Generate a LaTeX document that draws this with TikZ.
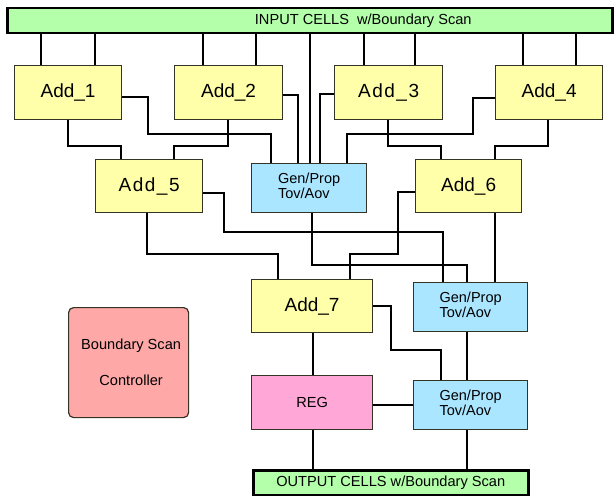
\documentclass[tikz,border=0pt]{standalone}
\usepackage{fontspec}
\setmainfont{Liberation Sans}
\newcommand{\fsz}[2]{\fontsize{#1}{#2}\selectfont}
\newcommand{\wide}{\addfontfeature{LetterSpace=8}}
\definecolor{addy}{HTML}{FFFFAA}
\definecolor{gpb}{HTML}{AAE6FF}
\definecolor{regp}{HTML}{FFA8D8}
\definecolor{ctrl}{HTML}{FFA8A8}
\definecolor{cellg}{HTML}{B4FFAA}
\definecolor{edge}{HTML}{333326}
\begin{document}
\begin{tikzpicture}[x=1pt,y=-1pt,
  blk/.style={draw=edge, line width=1.2pt, inner sep=0pt, anchor=north west},
  addbox/.style={blk, fill=addy, font=\fsz{19}{22}},
  gpbox/.style={blk, fill=gpb, label={[gptext]center:Gen/Prop\\Tov/Aov}},
  gptext/.style={font=\fsz{14.5}{15}, align=left, inner sep=0pt, yshift=2.5pt},
  cellbar/.style={draw=black, line width=2.5pt, fill=cellg, inner sep=0pt, anchor=north west},
  celltext/.style={font=\fsz{14.6}{17}},
  wire/.style={line width=1.8pt, black}]
\useasboundingbox (0,0) rectangle (615,495);
% cell bars
\node[cellbar, minimum width=605pt, minimum height=25pt,
  label={[celltext, xshift=53.5pt]center:INPUT CELLS\ \ w/Boundary Scan}] (in) at (6,7) {};
\node[cellbar, minimum width=275pt, minimum height=25pt, celltext] (out) at (252,469) {OUTPUT CELLS w/Boundary Scan};
% adders
\node[addbox, minimum width=107pt, minimum height=54pt] (a1) at (14,65) {Add\_1};
\node[addbox, minimum width=108pt, minimum height=54pt] (a2) at (174,65) {Add\_2};
\node[addbox, minimum width=108pt, minimum height=54pt] (a3) at (334,65) {\wide Add\_3};
\node[addbox, minimum width=107pt, minimum height=54pt] (a4) at (495,65) {Add\_4};
\node[addbox, minimum width=107pt, minimum height=53pt] (a5) at (95,159) {\wide Add\_5};
\node[addbox, minimum width=106pt, minimum height=53pt] (a6) at (415,159) {Add\_6};
\node[addbox, minimum width=121pt, minimum height=53pt] (a7) at (251,279) {Add\_7};
% gen/prop
\node[gpbox, minimum width=115pt, minimum height=49pt] (gp1) at (251,163) {};
\node[gpbox, minimum width=114pt, minimum height=49pt] (gp2) at (413,282) {};
\node[gpbox, minimum width=114pt, minimum height=49pt] (gp3) at (413,380) {};
% register and controller
\node[blk, fill=regp, minimum width=121pt, minimum height=54pt, font=\fsz{14.6}{17}] (reg) at (251,375) {REG};
\node[blk, fill=ctrl, rounded corners=5pt, minimum width=120pt, minimum height=110pt,
  align=center, font=\fsz{14.6}{36}] (ctl) at (68,307) {\hspace*{5pt}Boundary Scan\\\hspace*{5pt}Controller};
% input wires
\foreach \xx in {41,95} \draw[wire] (in.south -| \xx,0) -- (a1.north -| \xx,0);
\foreach \xx in {203,256} \draw[wire] (in.south -| \xx,0) -- (a2.north -| \xx,0);
\foreach \xx in {364,415} \draw[wire] (in.south -| \xx,0) -- (a3.north -| \xx,0);
\foreach \xx in {523,576} \draw[wire] (in.south -| \xx,0) -- (a4.north -| \xx,0);
\draw[wire] (in.south -| 310,0) -- (gp1.north -| 310,0);
% to gen/prop 1
\draw[wire] (a1.east |- 0,97) -| (148,134) -| (gp1.north -| 271,0);
\draw[wire] (a2.east |- 0,95) -| (gp1.north -| 298,0);
\draw[wire] (a3.west |- 0,94) -| (gp1.north -| 320,0);
\draw[wire] (a4.west |- 0,98) -| (473,134) -| (gp1.north -| 347,0);
% to add5 / add6
\draw[wire] (a1.south -| 68,0) |- (121,146) -- (a5.north -| 121,0);
\draw[wire] (a2.south -| 228,0) |- (174,146) -- (a5.north -| 174,0);
\draw[wire] (a3.south -| 388,0) |- (441,146) -- (a6.north -| 441,0);
\draw[wire] (a4.south -| 548,0) |- (495,146) -- (a6.north -| 495,0);
% second level
\draw[wire] (a5.east |- 0,193) -| (224,232) -| (gp2.north -| 443,0);
\draw[wire] (a5.south -| 147,0) |- (278,254) -- (a7.north -| 278,0);
\draw[wire] (gp1.south -| 312,0) |- (467,265) -- (gp2.north -| 467,0);
\draw[wire] (a6.west |- 0,192) -| (398,254) -| (a7.north -| 350,0);
\draw[wire] (a6.south -| 495,0) -- (gp2.north -| 495,0);
% third level
\draw[wire] (a7.east |- 0,306) -| (391,350) -| (gp3.north -| 441,0);
\draw[wire] (a7.south -| 313,0) -- (reg.north -| 313,0);
\draw[wire] (gp2.south -| 467,0) -- (gp3.north -| 467,0);
\draw[wire] (reg.east |- 0,405) -- (gp3.west |- 0,405);
\draw[wire] (reg.south -| 313,0) -- (out.north -| 313,0);
\draw[wire] (gp3.south -| 467,0) -- (out.north -| 467,0);
\end{tikzpicture}
\end{document}
